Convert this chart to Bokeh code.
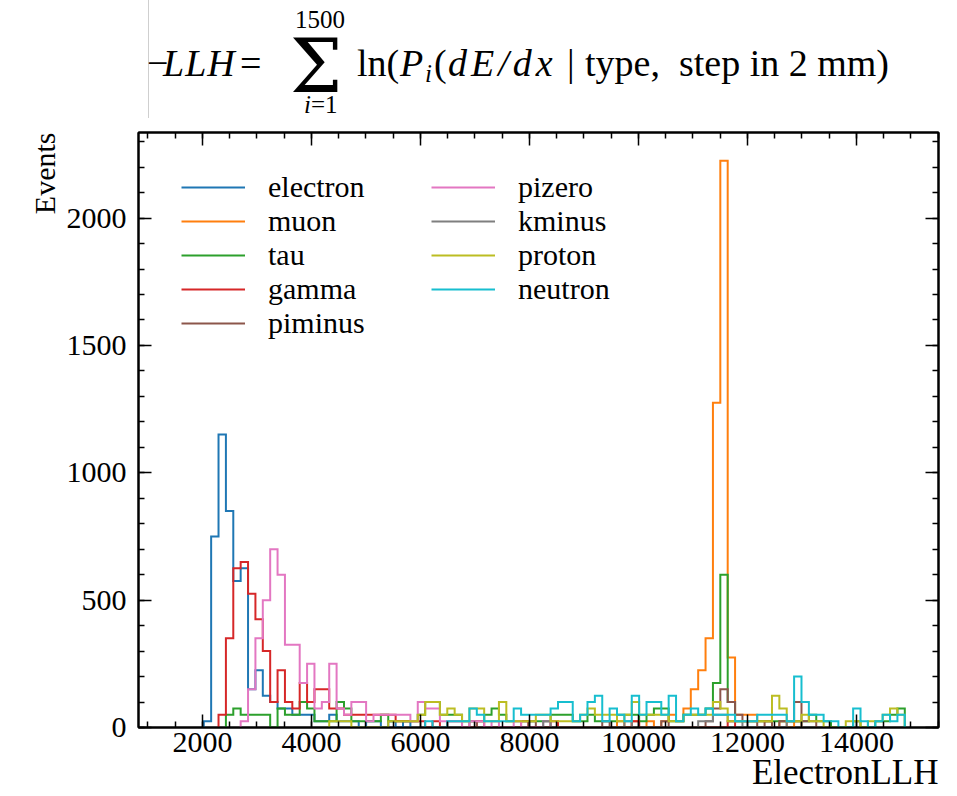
import numpy as np
from bokeh.plotting import figure
from bokeh.layouts import column
from bokeh.models import (Range1d, SingleIntervalTicker, LinearAxis, Legend, LegendItem,
                          Title, Div, CustomJSTickFormatter)
from bokeh.embed import file_html
from bokeh.resources import INLINE

SERIF = "Liberation Serif"

# shared histogram binning (ElectronLLH)
BIN_START = 1482.0
BIN_WIDTH = 135.4

# events per bin; each list starts at the bin index given by *_first
electron_first = 4
electron = [25, 750, 1150, 850, 575, 625, 150, 225, 125, 100,
            75, 75, 50, 50, 50, 25, 25, 50, 25, 25,
            25, 0, 25, 25, 0, 25, 0, 25]

muon_first = 60
muon = [25, 0, 25, 0, 25, 0, 25, 50, 25, 75,
        150, 225, 350, 1275, 2225, 275, 50, 50, 50, 25,
        25, 0, 25, 0, 25]

tau_first = 7
tau = [50, 75, 50, 50, 50, 50, 0, 75, 50, 50,
       100, 75, 25, 25, 25, 100, 75, 25, 25, 25,
       25, 50, 25, 25, 25, 25, 50, 100, 100, 50,
       50, 50, 25, 25, 25, 50, 75, 50, 25, 25,
       25, 25, 25, 25, 50, 50, 50, 25, 25, 50,
       25, 25, 25, 50, 50, 50, 25, 50, 75, 75,
       25, 25, 50, 50, 50, 75, 175, 600, 100, 25,
       25, 25, 25, 25, 25, 25, 25, 25, 25, 50,
       25, 25, 0, 0, 0, 25, 0, 0, 25, 25,
       50, 75]

gamma_first = 6
gamma = [50, 350, 625, 650, 525, 425, 300, 100, 225, 100,
         75, 175, 100, 150, 150, 75, 75, 50, 50, 50,
         50, 50, 50, 50, 25, 25, 25, 25, 0, 25,
         0, 25, 25, 0, 0, 25, 0, 0, 0, 0,
         0, 25, 0, 0, 0, 25, 0, 0, 0, 0,
         0, 0, 0, 0, 0, 0, 25, 0, 0, 0,
         0, 0, 0, 0, 0, 0, 0, 0, 0, 25]

piminus_first = 40
piminus = [25, 0, 0, 0, 0, 0, 0, 0, 25, 0,
           0, 0, 0, 0, 0, 0, 0, 0, 25, 0,
           0, 0, 0, 0, 0, 0, 25, 0, 0, 0,
           0, 0, 25, 75, 150, 100, 50, 25, 25, 0,
           25, 0, 25, 25, 100, 25, 25]

pizero_first = 9
pizero = [25, 150, 350, 500, 700, 600, 325, 325, 175, 250,
          75, 100, 250, 75, 50, 100, 100, 25, 50, 50,
          50, 50, 50, 25, 100, 75, 75, 25, 25, 25,
          0, 25, 25, 0, 25, 0, 0, 25, 0, 0,
          0, 25]

kminus_first = 50
kminus = [25, 0, 0, 0, 0, 0, 0, 0, 0, 0,
          0, 25, 0, 0, 0, 0, 0, 0, 0, 0,
          0, 25, 25, 50, 50, 25, 25, 0, 0, 0,
          0, 0, 0, 25, 25]

proton_first = 21
proton = [25, 25, 25, 0, 0, 0, 0, 0, 25, 25,
          25, 25, 50, 100, 100, 50, 75, 50, 25, 75,
          75, 25, 25, 100, 25, 25, 25, 25, 50, 50,
          25, 25, 25, 25, 50, 75, 50, 50, 50, 25,
          50, 100, 50, 50, 50, 50, 25, 25, 50, 50,
          50, 50, 100, 75, 25, 25, 25, 25, 25, 25,
          125, 75, 25, 25, 50, 25, 25, 0, 0, 0,
          25, 25, 0, 25, 25, 50, 75, 50]

neutron_first = 34
neutron = [25, 0, 0, 25, 25, 25, 75,
           50, 25, 25, 25, 25, 75, 50, 50, 50, 50,
           75, 100, 100, 25, 50, 100, 125, 25, 75, 50,
           25, 125, 50, 100, 100, 50, 125, 25, 50, 75,
           50, 75, 50, 50, 50, 25, 25, 25, 50, 50,
           50, 50, 25, 200, 100, 50, 50, 25, 25, 0,
           0, 75, 25, 0, 25, 50, 25, 50]

particles = ["electron", "muon", "tau", "gamma", "piminus",
             "pizero", "kminus", "proton", "neutron"]
colors = ["#1f77b4", "#ff7f0e", "#2ca02c", "#d62728", "#8c564b",
          "#e377c2", "#7f7f7f", "#bcbd22", "#17becf"]
series = {
    "electron": (electron_first, electron),
    "muon": (muon_first, muon),
    "tau": (tau_first, tau),
    "gamma": (gamma_first, gamma),
    "piminus": (piminus_first, piminus),
    "pizero": (pizero_first, pizero),
    "kminus": (kminus_first, kminus),
    "proton": (proton_first, proton),
    "neutron": (neutron_first, neutron),
}

X_RANGE = (826, 15505)
Y_RANGE = (0, 2336)


def step_outline(first, counts):
    """Outline of a step histogram: up from zero, across each bin, back down."""
    counts = np.asarray(counts, dtype=float)
    edges = BIN_START + BIN_WIDTH * np.arange(first, first + len(counts) + 1)
    xs = np.repeat(edges, 2)
    ys = np.concatenate([[0.0], np.repeat(counts, 2), [0.0]])
    return xs, ys


# ---------------- likelihood definition (header) ----------------
# font metrics (ascent, descent) used to put each piece on its baseline
METRICS = {"Liberation Serif": (0.891, 0.216), "DejaVu Serif": (0.928, 0.236)}

# (left px, baseline px, font px, line height, italic, family, letter spacing, text)
formula_parts = [
    (147, 76, 38, 1.0, False, SERIF, 0, "\u2212"),
    (163, 76, 38, 1.0, True, SERIF, 1, "LLH"),
    (240, 76, 38, 1.0, False, SERIF, 0, "="),
    (295, 28, 25, 1.0, False, SERIF, 0, "1500"),
    (290, 92, 74, 0.65, False, "DejaVu Serif", 0, "\u03a3"),
    (304, 114, 25, 0.9, True, SERIF, 0, "i"),
    (311, 114, 25, 0.9, False, SERIF, 0, "=1"),
    (357, 76, 38, 1.0, False, SERIF, 0, "ln("),
    (400, 76, 38, 1.0, True, SERIF, 0, "P"),
    (425, 83, 25, 0.9, True, SERIF, 0, "i"),
    (434, 76, 38, 1.0, False, SERIF, 0, "("),
    (448, 76, 38, 1.0, True, SERIF, 4, "dE/dx"),
    (567, 76, 38, 1.0, False, SERIF, 0, "|"),
    (585, 76, 38, 1.0, False, SERIF, 0, "type,  step in 2 mm)"),
]

spans = ['<div style="position:absolute;left:148px;top:0px;width:1px;height:118px;'
         'background:#cfcfcf;"></div>']
for left, base, size, lh, italic, fam, ls, txt in formula_parts:
    asc, desc = METRICS[fam]
    top = base - ((lh - asc - desc) / 2 + asc) * size
    style = ("position:absolute;left:%dpx;top:%.1fpx;font-size:%dpx;line-height:%.2f;"
             "white-space:pre;font-family:'%s',serif;font-style:%s;letter-spacing:%dpx;"
             % (left, top, size, lh, fam, "italic" if italic else "normal", ls))
    spans.append('<span style="%s">%s</span>' % (style, txt))
header_html = ('<div style="position:relative;width:957px;height:118px;overflow:hidden;'
               'color:#000;background:#fff;">' + "".join(spans) + "</div>")
header = Div(text=header_html, width=957, height=118, margin=0)

# ---------------- histogram panel ----------------
p = figure(width=957, height=678, x_range=Range1d(*X_RANGE), y_range=Range1d(*Y_RANGE),
           output_backend="svg", toolbar_location=None,
           min_border_left=138, min_border_right=19, min_border_top=14, min_border_bottom=69)
p.xgrid.visible = False
p.ygrid.visible = False
p.outline_line_color = "black"
p.outline_line_width = 2
p.background_fill_color = "white"
p.border_fill_color = "white"

x_ticker = SingleIntervalTicker(interval=2000, num_minor_ticks=4)
y_ticker = SingleIntervalTicker(interval=500, num_minor_ticks=5)


def style_axis(ax, ticker):
    ax.ticker = ticker
    ax.axis_line_color = "black"
    ax.axis_line_width = 2
    ax.major_tick_in = 13
    ax.major_tick_out = 0
    ax.minor_tick_in = 6
    ax.minor_tick_out = 0
    ax.major_tick_line_width = 1.5
    ax.minor_tick_line_width = 1.5
    ax.major_tick_line_color = "black"
    ax.minor_tick_line_color = "black"
    ax.axis_label = None


xa = p.xaxis[0]
ya = p.yaxis[0]
style_axis(xa, x_ticker)
style_axis(ya, y_ticker)
for ax in (xa, ya):
    ax.major_label_text_font = SERIF
    ax.major_label_text_font_size = "30px"
    ax.major_label_text_color = "black"
xa.major_label_standoff = 5
ya.major_label_standoff = 12

# axis titles, pushed to the far (top / right) ends of their axes
p.add_layout(Title(text="Events", align="right", text_font=SERIF, text_font_size="30px",
                   text_font_style="normal", text_color="black", standoff=6), "left")
p.add_layout(Title(text="ElectronLLH", align="right", text_font=SERIF,
                   text_font_size="35px", text_font_style="normal", text_color="black",
                   standoff=-7), "below")

blank = CustomJSTickFormatter(code="return ''")
top_axis = LinearAxis(formatter=blank)
right_axis = LinearAxis(formatter=blank)
style_axis(top_axis, x_ticker)
style_axis(right_axis, y_ticker)
for ax in (top_axis, right_axis):
    ax.major_label_text_font_size = "1px"
    ax.major_label_standoff = 0
p.add_layout(top_axis, "above")
p.add_layout(right_axis, "right")

renderers = {}
for name, color in zip(particles, colors):
    first, counts = series[name]
    xs, ys = step_outline(first, counts)
    renderers[name] = p.line(xs, ys, line_color=color, line_width=2, line_join="miter")


def make_legend(names, loc):
    leg = Legend(items=[LegendItem(label=n, renderers=[renderers[n]]) for n in names],
                 location=loc, orientation="vertical")
    leg.label_text_font = SERIF
    leg.label_text_font_size = "30px"
    leg.label_text_color = "black"
    leg.glyph_width = 64
    leg.glyph_height = 34
    leg.label_height = 34
    leg.label_standoff = 23
    leg.spacing = 0
    leg.padding = 0
    leg.margin = 0
    leg.border_line_color = None
    leg.background_fill_alpha = 0
    return leg


p.add_layout(make_legend(particles[:5], (43, 387)))
p.add_layout(make_legend(particles[5:], (293, 421)))

layout = column(header, p, spacing=0)
open("out.html", "w").write(file_html(layout, INLINE))
